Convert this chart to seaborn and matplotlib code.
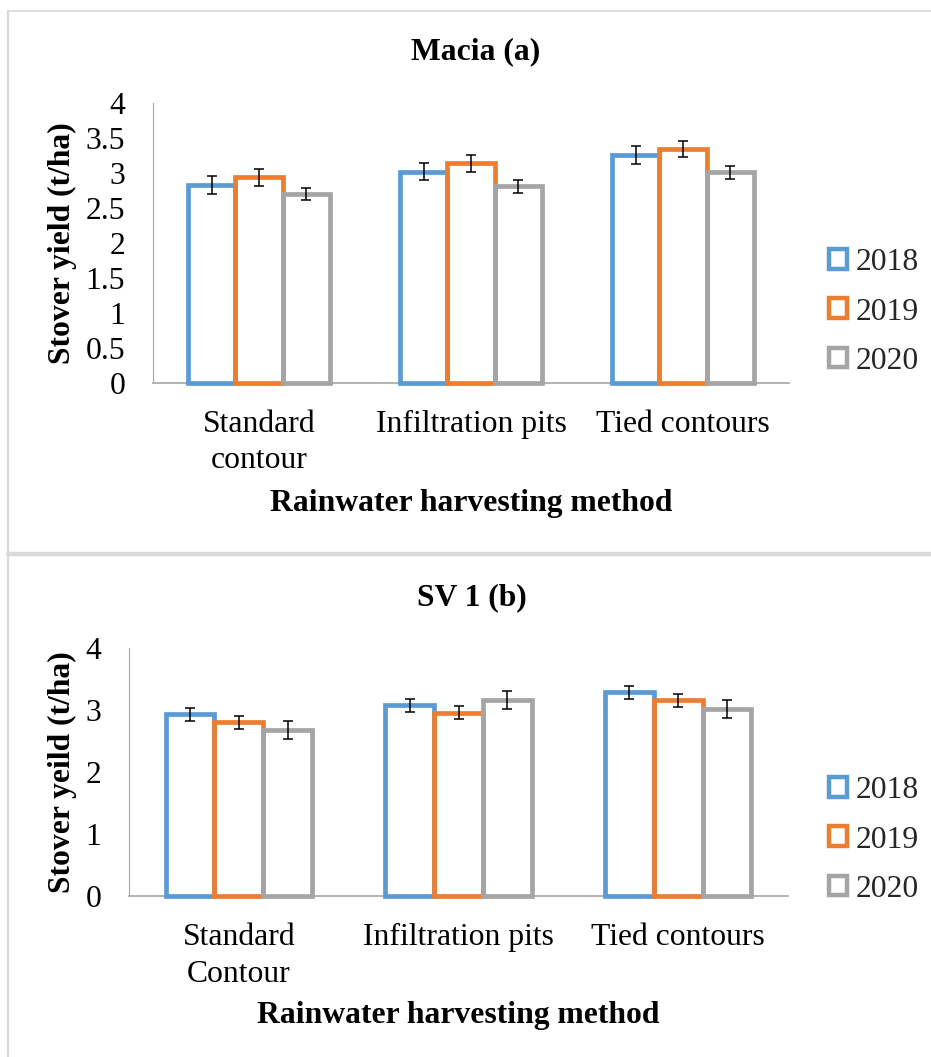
import numpy as np
import pandas as pd
import matplotlib
matplotlib.use("Agg")
import matplotlib.pyplot as plt
import seaborn as sns
from matplotlib.patches import Patch
from matplotlib.lines import Line2D

# ---------------- data ----------------
years = ["2018", "2019", "2020"]
colors = ["#5B9BD5", "#ED7D31", "#A5A5A5"]

methods_a = ["Standard\ncontour", "Infiltration pits", "Tied contours"]
methods_b = ["Standard\nContour", "Infiltration pits", "Tied contours"]

macia_2018 = [2.83, 3.02, 3.26]
macia_2019 = [2.94, 3.14, 3.35]
macia_2020 = [2.70, 2.81, 3.01]
macia_err_2018 = [0.125, 0.125, 0.124]
macia_err_2019 = [0.117, 0.119, 0.117]
macia_err_2020 = [0.088, 0.090, 0.088]

sv1_2018 = [2.93, 3.07, 3.28]
sv1_2019 = [2.80, 2.95, 3.15]
sv1_2020 = [2.67, 3.16, 3.01]
sv1_err_2018 = [0.105, 0.105, 0.102]
sv1_err_2019 = [0.107, 0.105, 0.107]
sv1_err_2020 = [0.148, 0.148, 0.145]

yticks_a = [0, 0.5, 1, 1.5, 2, 2.5, 3, 3.5, 4]
ylabels_a = ["0", "0.5", "1", "1.5", "2", "2.5", "3", "3.5", "4"]
yticks_b = [0, 1, 2, 3, 4]
ylabels_b = ["0", "1", "2", "3", "4"]

title_a = "Macia (a)"
title_b = "SV 1 (b)"
ylab_a = "Stover yield (t/ha)"
ylab_b = "Stover yeild (t/ha)"
xlab = "Rainwater harvesting method"

# ---------------- style ----------------
sns.set_theme(style="white")
plt.rcParams["font.family"] = ["Liberation Serif", "DejaVu Serif"]
FS = 22.8
W, H = 931, 1057

fig = plt.figure(figsize=(W / 100, H / 100), dpi=100)


def fx(px):
    return px / W


def fy(py):
    return (H - py) / H


def panel(left, right, top, bottom, cats, vals, errs, yt, yl, title, title_xy,
          ylabel, ylabel_x, xlabel_y, legend_y):
    ax = fig.add_axes([fx(left), fy(bottom), fx(right) - fx(left), fy(top) - fy(bottom)])
    rows = []
    for yr, vs in zip(years, vals):
        for c, v in zip(cats, vs):
            rows.append({"method": c, "year": yr, "value": v})
    df = pd.DataFrame(rows)
    sns.barplot(data=df, x="method", y="value", hue="year", order=cats,
                hue_order=years, palette=colors, fill=False, linewidth=3.4,
                width=0.667, errorbar=None, legend=False, ax=ax)
    bar_containers = list(ax.containers)
    # error bars at the bars drawn by seaborn
    for i, cont in enumerate(bar_containers):
        for bar in cont:
            bar.set_clip_on(False)
            bar.set_zorder(3)
            xc = bar.get_x() + bar.get_width() / 2
            j = int(round(xc))
            ax.errorbar(xc, bar.get_height(), yerr=errs[i][j], fmt="none",
                        ecolor="black", elinewidth=1.1, capsize=3.8,
                        capthick=1.1, zorder=5)
    ax.set_ylim(0, 4)
    ax.set_xlim(-0.5, 2.5)
    ax.set_yticks(yt, labels=yl)
    ax.set_xticks(range(len(cats)), labels=cats)
    ax.tick_params(axis="both", length=0, labelsize=FS, labelcolor="black")
    ax.tick_params(axis="x", pad=19.5)
    ax.tick_params(axis="y", pad=20)
    for lbl in ax.get_xticklabels():
        lbl.set_linespacing(1.35)
    for s in ["top", "right"]:
        ax.spines[s].set_visible(False)
    ax.spines["left"].set_color("#a6a6a6")
    ax.spines["left"].set_linewidth(0.8)
    ax.spines["bottom"].set_color("#a6a6a6")
    ax.spines["bottom"].set_linewidth(1.2)
    ax.set_facecolor("none")
    ax.grid(False)

    ax.set_ylabel(ylabel, fontsize=FS, fontweight="bold", color="black")
    ax.yaxis.label.set_va("center")
    ax.yaxis.set_label_coords((ylabel_x - left) / (right - left), 0.5)
    ax.set_xlabel(xlab, fontsize=FS, fontweight="bold", color="black")
    ax.xaxis.label.set_va("center")
    ax.xaxis.set_label_coords(0.5, -(xlabel_y - bottom) / (bottom - top))

    fig.text(fx(title_xy[0]), fy(title_xy[1]), title, fontsize=FS,
             fontweight="bold", ha="center", va="center", color="black")

    handles = [Patch(facecolor="white", edgecolor=c, linewidth=3.2) for c in colors]
    ax.legend(handles, years, loc="center left",
              bbox_to_anchor=(fx(829), fy(legend_y)), bbox_transform=fig.transFigure,
              frameon=False, fontsize=FS, handlelength=0.58, handleheight=0.58,
              handletextpad=0.25, labelspacing=0.64, borderpad=0, borderaxespad=0)
    return ax


panel(153, 789, 103.3, 382.7, methods_a,
      [macia_2018, macia_2019, macia_2020],
      [macia_err_2018, macia_err_2019, macia_err_2020],
      yticks_a, ylabels_a, title_a, (476, 52), ylab_a, 62, 503, 312)

panel(129, 788, 647.7, 896, methods_b,
      [sv1_2018, sv1_2019, sv1_2020],
      [sv1_err_2018, sv1_err_2019, sv1_err_2020],
      yticks_b, ylabels_b, title_b, (472, 598), ylab_b, 62, 1015, 840)

# chart-area borders
bc = "#d9d9d9"
fig.add_artist(Line2D([fx(7.5), fx(7.5)], [fy(11), fy(H + 5)], transform=fig.transFigure,
                      color=bc, lw=1.6))
fig.add_artist(Line2D([fx(7.5), fx(W + 5)], [fy(11), fy(11)], transform=fig.transFigure,
                      color=bc, lw=1.2))
fig.add_artist(Line2D([fx(7.5), fx(W + 5)], [fy(554), fy(554)], transform=fig.transFigure,
                      color=bc, lw=3.2))

fig.savefig("out.png", dpi=100, facecolor="white")
